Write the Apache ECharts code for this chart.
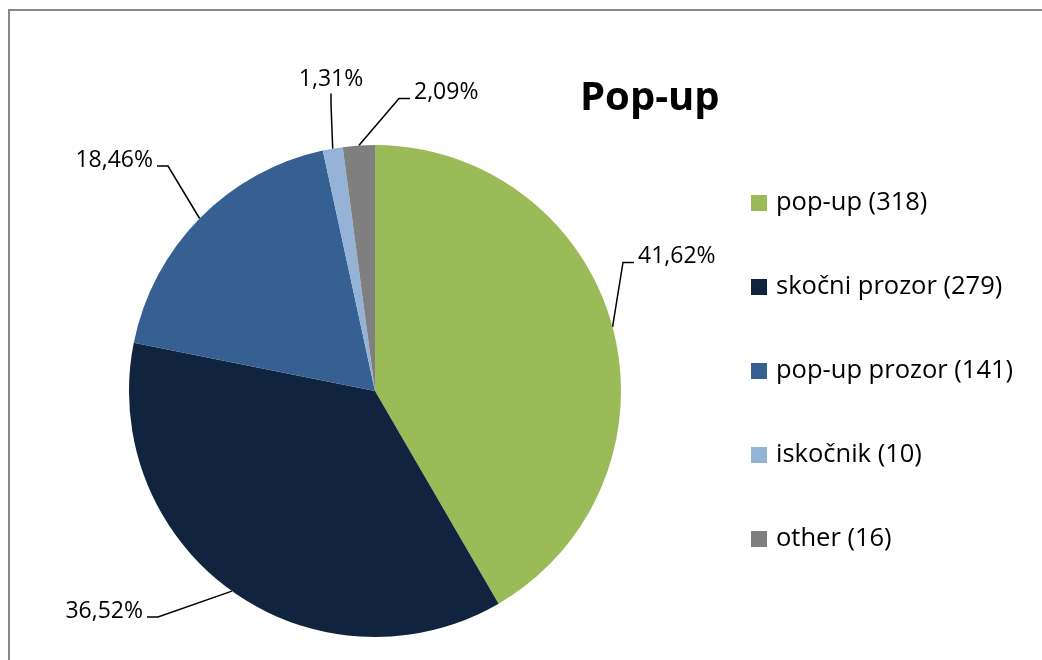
<!DOCTYPE html>
<html>
<head>
<meta charset="utf-8">
<title>Pop-up</title>
<script src="https://cdn.jsdelivr.net/npm/echarts@6/dist/echarts.min.js"></script>
<style>
    html, body { margin: 0; padding: 0; background: #fff; }
    #chart { width: 1042px; height: 660px; }
</style>
</head>
<body>
<div id="chart"></div>
<script>
    const names = ['pop-up', 'skočni prozor', 'pop-up prozor', 'iskočnik', 'other']
    const counts = [318, 279, 141, 10, 16]
    const colors = ['#9BBB59', '#10243F', '#376092', '#95B3D7', '#7F7F7F']

    // where each percent label sits (box x, box y, align, bottom padding)
    const labelSpots = [
        [634, 244.5, 'left', 12],
        [147, 599, 'right', 12],
        [157, 148, 'right', 12],
        [331, 67.5, 'center', 2],
        [410, 80.5, 'left', 12]
    ]

    const total = counts.reduce((s, v) => s + v, 0)
    const fmtPct = v => (v / total * 100).toFixed(2).replace('.', ',') + '%'

    const data = []
    for (let i = 0; i < names.length; i++) {
        data.push({
            name: names[i],
            value: counts[i],
            itemStyle: { color: colors[i] },
            label: { padding: [0, 4, labelSpots[i][3], 4] }
        })
    }

    const myChart = echarts.init(document.getElementById('chart'))
    const option = {
        animation: false,
        backgroundColor: '#fff',
        title: {
            text: 'Pop-up',
            left: 580,
            top: 79,
            padding: 0,
            textStyle: {
                fontFamily: 'Open Sans',
                fontWeight: 'bold',
                fontSize: 40,
                color: '#000'
            }
        },
        legend: {
            orient: 'vertical',
            left: 751,
            top: 190,
            padding: 0,
            icon: 'rect',
            itemWidth: 16,
            itemHeight: 16,
            itemGap: 58,
            data: names,
            formatter: name => name + ' (' + counts[names.indexOf(name)] + ')',
            textStyle: {
                fontFamily: 'Open Sans',
                fontSize: 25.5,
                lineHeight: 24,
                color: '#000',
                padding: [0, 0, 0, 4]
            }
        },
        graphic: [
            {
                type: 'rect',
                shape: { x: 9, y: 10, width: 1100, height: 700 },
                style: { fill: 'none', stroke: '#878787', lineWidth: 2 },
                silent: true
            }
        ],
        series: [
            {
                type: 'pie',
                radius: 246,
                center: [375, 391],
                startAngle: 90,
                clockwise: true,
                emphasis: { scale: false },
                label: {
                    show: true,
                    fontFamily: 'Open Sans',
                    fontSize: 23,
                    lineHeight: 24,
                    color: '#000',
                    formatter: p => fmtPct(p.value)
                },
                labelLine: {
                    show: true,
                    length: 10,
                    length2: 11,
                    minTurnAngle: 0,
                    lineStyle: { color: '#000', width: 1.5 }
                },
                labelLayout: p => {
                    const s = labelSpots[p.dataIndex]
                    return { x: s[0], y: s[1], align: s[2], verticalAlign: 'top' }
                },
                data: data
            }
        ]
    }
    myChart.setOption(option)
</script>
</body>
</html>
